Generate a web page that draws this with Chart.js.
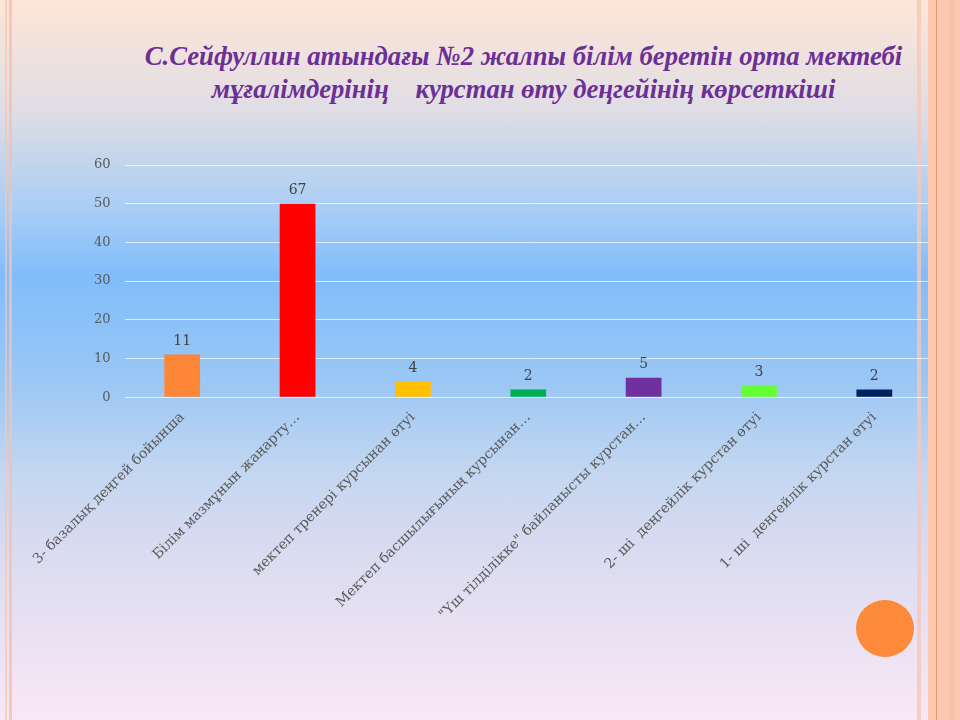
<!DOCTYPE html>
<html>
<head>
<meta charset="utf-8">
<script src="https://cdn.jsdelivr.net/npm/chart.js@4"></script>
<style>
html,body{margin:0;padding:0;}
body{width:960px;height:720px;overflow:hidden;position:relative;
background:linear-gradient(to bottom,#fde6d7 0px,#e0dde5 110px,#a9cdf5 210px,#80bdfb 275px,#9ac7f5 380px,#c3d6f0 470px,#dcdcf0 560px,#f9e7f6 720px);}
#lb1{position:absolute;left:5px;top:0;width:2px;height:720px;background:#f6c5b4;opacity:.7}
#lb2{position:absolute;left:9px;top:0;width:3px;height:720px;background:#f7bfae;opacity:.8}
#rb{position:absolute;left:928px;top:0;width:32px;height:720px;background:#fbc7ae;}
#rb1{position:absolute;left:917px;top:0;width:4px;height:720px;background:#f7c7b6;opacity:.8}
#rb2{position:absolute;left:936px;top:0;width:1px;height:720px;background:#e59a72;}
#rb3{position:absolute;left:950px;top:0;width:4px;height:720px;background:#f8bca4;opacity:.7}
#circle{position:absolute;left:856px;top:600px;width:58px;height:57px;border-radius:50%;background:#fd8a3b;}
#title{position:absolute;left:96px;top:39px;width:846px;text-align:center;font-family:"Liberation Serif",serif;font-style:italic;font-weight:bold;font-size:28px;line-height:33px;color:#6b2f96;white-space:pre;transform:scaleX(0.953);transform-origin:519px 0;}
#wrap{position:absolute;left:0;top:0;width:960px;height:720px;}
</style>
</head>
<body>
<div id="lb1"></div><div id="lb2"></div>
<div id="rb1"></div>
<div id="title">С.Сейфуллин атындағы №2 жалпы білім беретін орта мектебі
мұғалімдерінің    курстан өту деңгейінің көрсеткіші</div>
<div id="wrap"><canvas id="c" width="960" height="720"></canvas></div>
<div id="rb"></div><div id="rb2"></div><div id="rb3"></div>
<div id="circle"></div>
<script>
const categories = [
  "3- базалық деңгей бойынша",
  "Білім мазмұнын жаңарту…",
  "мектеп тренері курсынан өтуі",
  "Мектеп басшылығының курсынан…",
  "\"Үш тілділікке\" байланысты курстан…",
  "2- ші  деңгейлік курстан өтуі",
  "1- ші  деңгейлік курстан өтуі"
];
const values = [11, 50, 4, 2, 5, 3, 2];
const valueLabels = ["11", "67", "4", "2", "5", "3", "2"];
const barColors = ["#fd8637", "#ff0000", "#ffc000", "#00b050", "#7030a0", "#66ff33", "#002060"];
const yTicks = [0, 10, 20, 30, 40, 50, 60];

const labelPlugin = {
  id: 'valLabels',
  afterDatasetsDraw(chart) {
    const ctx = chart.ctx;
    const meta = chart.getDatasetMeta(0);
    ctx.save();
    ctx.font = '14px "DejaVu Serif", serif';
    ctx.fillStyle = '#404040';
    ctx.textAlign = 'center';
    ctx.textBaseline = 'bottom';
    meta.data.forEach((bar, i) => {
      ctx.fillText(valueLabels[i], bar.x, bar.y - 6);
    });
    ctx.restore();
  }
};

new Chart(document.getElementById('c'), {
  type: 'bar',
  data: {
    labels: categories,
    datasets: [{ data: values, backgroundColor: barColors, borderWidth: 0,
      barPercentage: 0.62, categoryPercentage: 0.5 }]
  },
  options: {
    responsive: false,
    animation: false,
    devicePixelRatio: 1,
    layout: { padding: { left: 80, top: 165, right: 28, bottom: 93 } },
    plugins: { legend: { display: false }, tooltip: { enabled: false }, title: { display: false } },
    scales: {
      x: {
        grid: { display: false },
        border: { display: false },
        ticks: { minRotation: 45, maxRotation: 45, autoSkip: false, color: '#595959', padding: 4,
          font: { family: '"DejaVu Serif", serif', size: 14 } }
      },
      y: {
        min: 0, max: 60,
        afterBuildTicks(axis) { axis.ticks = yTicks.map(v => ({ value: v })); },
        grid: { color: 'rgba(255,255,255,0.7)', lineWidth: 1, drawTicks: false },
        border: { display: false },
        ticks: { color: '#595959', padding: 14, font: { family: '"DejaVu Serif", serif', size: 13 } }
      }
    }
  },
  plugins: [labelPlugin]
});
</script>
</body>
</html>
